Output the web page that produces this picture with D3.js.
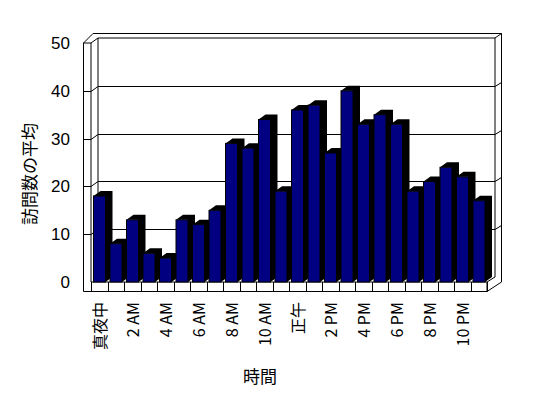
<!DOCTYPE html>
<html>
<head>
<meta charset="utf-8">
<script src="https://cdn.jsdelivr.net/npm/d3@7"></script>
<style>
	body { margin: 0; background: #fff; }
	svg text { font-family: "Noto Sans CJK JP", "DejaVu Sans", sans-serif; fill: #000; }
	.frame line, .frame path { stroke: #000; stroke-width: 1; fill: none; }
</style>
</head>
<body>
<svg id="chart" width="548" height="398"></svg>
<script>
// hours 0..23, labelled every second hour
var hours = d3.range(24);
var hourLabels = ["真夜中", "2 AM", "4 AM", "6 AM", "8 AM", "10 AM",
	"正午", "2 PM", "4 PM", "6 PM", "8 PM", "10 PM"];
var visits = [18, 8, 13, 6, 5, 13, 12, 15, 29, 28, 34, 19,
	36, 37, 27, 40, 33, 35, 33, 19, 21, 24, 22, 17];
var yTicks = [0, 10, 20, 30, 40, 50];
var yTitle = "訪問数の平均";
var xTitle = "時間";

var svg = d3.select("#chart");

// front plane scales
var xScale = d3.scaleBand().domain(hours).range([91, 487]);
var yScale = d3.scaleLinear().domain([0, 50]).range([282, 43]);

// wall depth (front -> back)
var DX = 7, DY = -5;
// bar depth
var BDX = 7, BDY = -5;

var frame = svg.append("g").attr("class", "frame");

function seg(x1, y1, x2, y2) {
	frame.append("line")
		.attr("x1", x1).attr("y1", y1)
		.attr("x2", x2).attr("y2", y2);
}

var xL = 91, xR = 487, yTop = yScale(50), yBot = yScale(0);
var outL = 83.5, outR = 501.5, outTop = 33.5, floorBot = 291.5;

// outline of the box
frame.append("path").attr("d", d3.line()([
	[outL, yTop], [93, outTop], [outR, outTop], [outR, yBot],
	[xR, floorBot], [outL, floorBot], [outL, yTop]
]));
// left wall front inner edge and its top
seg(xL, yTop, xL, yBot);
seg(xL, yTop, xL + DX, yTop + DY);
seg(outL, yTop, xL, yTop);
// back wall
seg(xL + DX, yTop + DY, xR + DX + 1, yTop + DY);
seg(xL + DX, yTop + DY, xL + DX, yBot + DY);
seg(xR + DX + 1, yTop + DY, outR, outTop);
seg(xR + DX + 1, yTop + DY, xR + DX + 1, yBot + DY);
seg(xR + DX + 1, yBot + DY, xR, yBot);
// floor front
seg(xL, yBot, xR, yBot);
seg(xR, yBot, xR, floorBot);

// gridlines
yTicks.filter(function(v){ return v > 0 && v < 50; }).forEach(function(v){
	var yf = Math.round(yScale(v)) + 0.5;
	seg(outL, yf, xL, yf);
	seg(xL, yf, xL + DX, yf + DY);
	seg(xL + DX, yf + DY, xR + DX + 1, yf + DY);
	seg(xR + DX + 1, yf + DY, outR, yf + DY - 4);
});

// floor separators
hours.concat([24]).forEach(function(i){
	var xx = Math.round(i < 24 ? xScale(i) : xR) + 0.5;
	seg(xx, yBot, xx, floorBot);
});

// bars
var barOffset = 2.5, barWidth = 12;
var bars = svg.append("g").selectAll("g")
	.data(visits).enter()
	.append("g");

bars.append("path")
	.attr("fill", "#000")
	.attr("d", function(d, i){
		var x0 = xScale(i) + barOffset, x1 = x0 + barWidth;
		var yt = yScale(d), yb = yScale(0);
		return d3.line()([
			[x1, yb], [x1, yt], [x0, yt], [x0 + BDX, yt + BDY],
			[x1 + BDX, yt + BDY], [x1 + BDX, yb + BDY], [x1, yb]
		]);
	});

bars.append("rect")
	.attr("fill", "#000080")
	.attr("stroke", "#000")
	.attr("stroke-width", 1)
	.attr("x", function(d, i){ return xScale(i) + barOffset; })
	.attr("y", function(d){ return yScale(d); })
	.attr("width", barWidth)
	.attr("height", function(d){ return yScale(0) - yScale(d); });

// y axis labels
var yAxis = d3.axisLeft(yScale).tickValues(yTicks).tickSize(0).tickPadding(0);
var yAxisG = svg.append("g")
	.attr("transform", "translate(70,0)")
	.call(yAxis);
yAxisG.select(".domain").remove();
yAxisG.selectAll("text")
	.attr("x", 0)
	.style("font-size", "17px")
	.style("font-family", "'Liberation Sans', sans-serif")
	.attr("fill", "#000");

// x labels (every other hour)
svg.append("g").selectAll("text")
	.data(hourLabels).enter()
	.append("text")
	.attr("transform", function(d, i){
		var cx = xScale(i * 2) + xScale.bandwidth() / 2;
		return "translate(" + cx + ",302) rotate(-90)";
	})
	.attr("text-anchor", "end")
	.attr("dominant-baseline", "central")
	.style("font-size", "16px")
	.text(function(d){ return d; });

// titles
svg.append("text")
	.attr("transform", "translate(28,174) rotate(-90)")
	.attr("text-anchor", "middle")
	.attr("dominant-baseline", "central")
	.style("font-size", "17px")
	.text(yTitle);

svg.append("text")
	.attr("x", 260).attr("y", 375)
	.attr("text-anchor", "middle")
	.attr("dominant-baseline", "central")
	.style("font-size", "17px")
	.text(xTitle);
</script>
</body>
</html>
